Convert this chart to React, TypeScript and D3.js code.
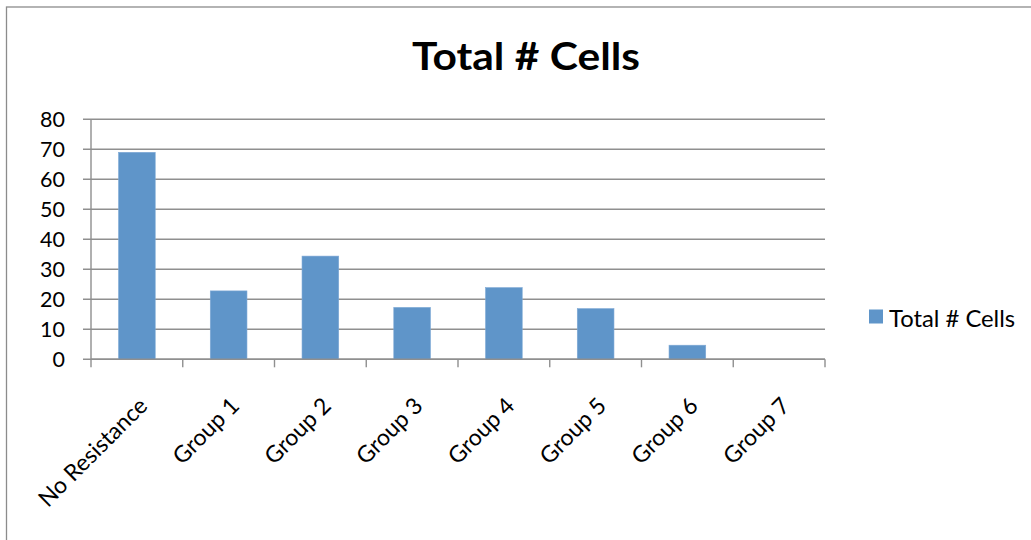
import React from "react";
import * as d3 from "d3";

const categories = ["No Resistance", "Group 1", "Group 2", "Group 3", "Group 4", "Group 5", "Group 6", "Group 7"];
const values = [69, 22.8, 34.4, 17.3, 23.9, 16.9, 4.7, 0];
const yTicks = [0, 10, 20, 30, 40, 50, 60, 70, 80];
const seriesName = "Total # Cells";
const title = "Total # Cells";

const W = 1031;
const H = 540;
const plot = { left: 91, right: 825, top: 119.3, bottom: 359.3 };
const FONT = "Lato, 'Open Sans', sans-serif";

export default function App() {
  const x = d3
    .scaleBand<string>()
    .domain(categories)
    .range([plot.left, plot.right])
    .paddingInner(0.6)
    .paddingOuter(0.3);
  const y = d3.scaleLinear().domain([0, 80]).range([plot.bottom, plot.top]);
  const step = x.step();
  const boundaries = d3.range(categories.length + 1).map((i) => plot.left + i * step);

  return (
    <svg width={W} height={H} style={{ position: "absolute", left: 0, top: 0, background: "#fff" }}>
      <rect x={6.5} y={7} width={W + 10} height={H + 10} fill="#fff" stroke="#8c8c8c" strokeWidth={1.3} />
      <text
        x={412}
        y={69.5}
        textLength={228}
        lengthAdjust="spacingAndGlyphs"
        fontFamily={FONT}
        fontWeight="bold"
        fontSize={38}
        fill="#000"
      >
        {title}
      </text>
      {yTicks.map((t) => (
        <g key={t}>
          <line x1={plot.left - 8} x2={plot.right} y1={y(t)} y2={y(t)} stroke="#8f8f8f" strokeWidth={1.4} />
          <text x={65} y={y(t)} dy="0.36em" textAnchor="end" fontFamily={FONT} fontSize={21.5} fill="#000">
            {t}
          </text>
        </g>
      ))}
      <line x1={plot.left} x2={plot.left} y1={plot.top} y2={plot.bottom} stroke="#8f8f8f" strokeWidth={1.4} />
      {boundaries.map((bx, i) => (
        <line key={i} x1={bx} x2={bx} y1={plot.bottom} y2={plot.bottom + 8} stroke="#8f8f8f" strokeWidth={1.4} />
      ))}
      {categories.map((c, i) => (
        <rect
          key={c}
          x={x(c)!}
          y={y(values[i])}
          width={x.bandwidth()}
          height={plot.bottom - y(values[i])}
          fill="#5f95c9"
          stroke="#7fa9d6"
          strokeWidth={0.6}
        />
      ))}
      <line x1={plot.left} x2={plot.right} y1={plot.bottom} y2={plot.bottom} stroke="#8f8f8f" strokeWidth={1.4} />
      {categories.map((c) => {
        const cx = x(c)! + x.bandwidth() / 2;
        return (
          <text
            key={c}
            transform={`translate(${cx + 12},${plot.bottom + 48}) rotate(-45)`}
            textAnchor="end"
            fontFamily={FONT}
            fontSize={23}
            fill="#000"
          >
            {c}
          </text>
        );
      })}
      <rect x={869} y={309.5} width={14} height={14} fill="#5f95c9" />
      <text x={889} y={326.5} fontFamily={FONT} fontSize={23.8} fill="#000">
        {seriesName}
      </text>
    </svg>
  );
}
